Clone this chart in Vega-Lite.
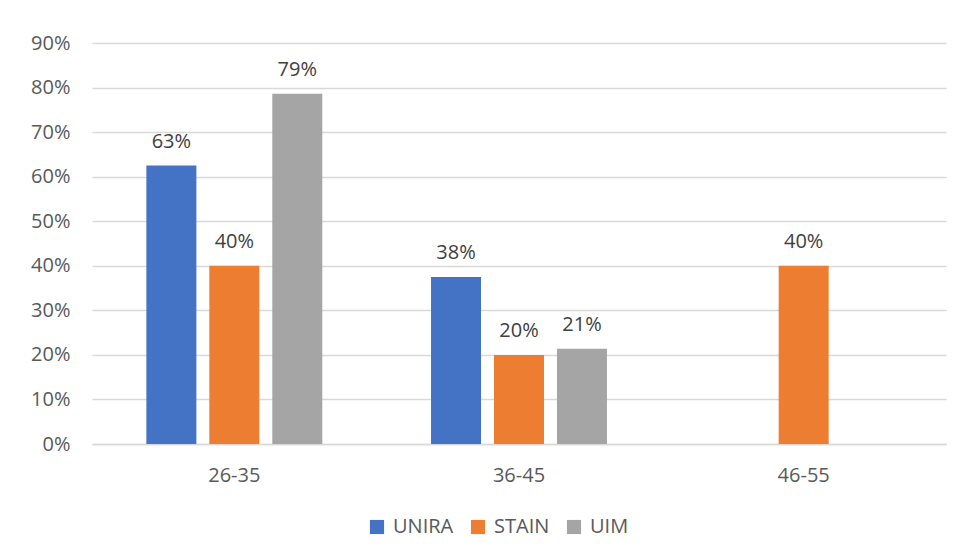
{
  "$schema": "https://vega.github.io/schema/vega-lite/v6.json",
  "autosize": "none",
  "width": 854,
  "height": 401,
  "padding": {"left": 92, "top": 43, "right": 15, "bottom": 115},
  "background": "white",
  "config": {
    "view": {"stroke": null},
    "font": "Open Sans",
    "axis": {"labelFont": "Open Sans", "labelFontSize": 20, "labelColor": "#595959"},
    "legend": {"labelFont": "Open Sans", "labelFontSize": 20, "labelColor": "#595959"}
  },
  "data": {
    "values": [
      {"age": "26-35", "inst": "UNIRA", "value": 0.625},
      {"age": "26-35", "inst": "STAIN", "value": 0.4},
      {"age": "26-35", "inst": "UIM", "value": 0.786},
      {"age": "36-45", "inst": "UNIRA", "value": 0.375},
      {"age": "36-45", "inst": "STAIN", "value": 0.2},
      {"age": "36-45", "inst": "UIM", "value": 0.214},
      {"age": "46-55", "inst": "STAIN", "value": 0.4}
    ]
  },
  "encoding": {
    "x": {
      "field": "age", "type": "nominal", "title": null,
      "scale": {"paddingInner": 0.382, "paddingOuter": 0.191},
      "axis": {"labelAngle": 0, "ticks": false, "domainColor": "#d9d9d9", "domainWidth": 1.3, "labelPadding": 21}
    },
    "xOffset": {
      "field": "inst", "type": "nominal",
      "sort": ["UNIRA", "STAIN", "UIM"],
      "scale": {"paddingInner": 0.206, "paddingOuter": 0}
    },
    "y": {
      "field": "value", "type": "quantitative", "title": null,
      "scale": {"domain": [0, 0.9], "nice": false},
      "axis": {"format": ".0%", "values": [0, 0.1, 0.2, 0.3, 0.4, 0.5, 0.6, 0.7, 0.8, 0.9], "ticks": false, "domain": false, "gridColor": "#d9d9d9", "gridWidth": 1.3, "labelPadding": 22}
    }
  },
  "layer": [
    {
      "mark": {"type": "bar"},
      "encoding": {
        "color": {
          "field": "inst", "type": "nominal", "title": null,
          "sort": ["UNIRA", "STAIN", "UIM"],
          "scale": {"domain": ["UNIRA", "STAIN", "UIM"], "range": ["#4472C4", "#ED7D31", "#A5A5A5"]},
          "legend": {"orient": "none", "legendX": 275, "legendY": 474, "direction": "horizontal", "symbolType": "square", "symbolSize": 200, "symbolStrokeWidth": 0, "columnPadding": 14, "labelOffset": 6}
        }
      }
    },
    {
      "mark": {"type": "text", "baseline": "alphabetic", "dy": -18, "fontSize": 20, "color": "#404040"},
      "encoding": {
        "text": {"field": "value", "type": "quantitative", "format": ".0%"}
      }
    }
  ]
}
